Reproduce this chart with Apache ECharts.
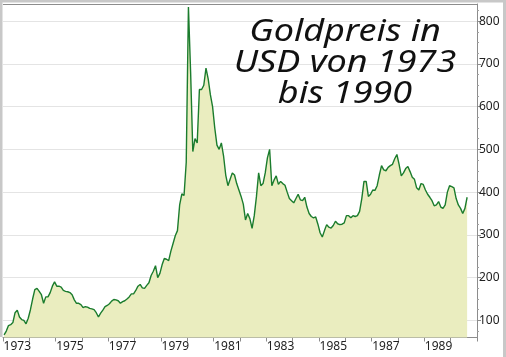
<!DOCTYPE html>
<html>
<head>
<meta charset="utf-8">
<script src="https://cdn.jsdelivr.net/npm/echarts@6/dist/echarts.min.js"></script>
<style>
html,body{margin:0;padding:0;background:#fff;}
#chart{width:506px;height:357px;}
</style>
</head>
<body>
<div id="chart"></div>
<script>
// Axis years (categories are monthly, Jan 1973 .. Dec 1990)
const years = [1973,1974,1975,1976,1977,1978,1979,1980,1981,1982,1983,1984,1985,1986,1987,1988,1989,1990];
const months = ['01','02','03','04','05','06','07','08','09','10','11','12'];
const yTickValues = [100,200,300,400,500,600,700,800];
const yMinorValues = [75,125,150,175,225,250,275,325,350,375,425,450,475,525,550,575,625,650,675,725,750,775,825];

// Gold price, USD per ounce, monthly
const g1973 = [66,75,88,90,95,118,124,108,102,100,92,105];
const g1974 = [125,150,172,175,168,160,140,155,155,165,180,190];
const g1975 = [180,180,178,170,168,167,165,160,148,140,140,137];
const g1976 = [130,132,131,128,127,125,118,108,117,124,132,135];
const g1977 = [139,145,149,148,146,140,144,146,150,155,162,162];
const g1978 = [170,180,184,176,175,182,188,205,215,228,200,210];
const g1979 = [230,245,243,240,262,280,298,310,370,396,392,470];
const g1980 = [833,680,495,525,515,640,640,650,690,665,628,600];
const g1981 = [550,510,500,515,485,440,415,430,445,440,420,405];
const g1982 = [390,372,335,350,338,315,345,390,445,415,420,445];
const g1983 = [480,500,415,428,438,418,425,420,416,400,385,380];
const g1984 = [375,385,395,382,380,388,365,350,343,340,342,325];
const g1985 = [305,295,310,324,318,316,322,332,326,324,325,328];
const g1986 = [345,345,340,345,343,345,355,385,425,425,390,395];
const g1987 = [405,404,415,440,462,452,450,458,462,465,478,488];
const g1988 = [465,438,445,455,460,448,435,430,410,405,420,418];
const g1989 = [405,395,388,380,368,370,378,365,362,370,400,415];
const g1990 = [413,410,385,370,362,350,362,388];

const goldPrices = [].concat(g1973,g1974,g1975,g1976,g1977,g1978,g1979,g1980,g1981,
  g1982,g1983,g1984,g1985,g1986,g1987,g1988,g1989,g1990);

const categories = [];
years.forEach(y => months.forEach(m => categories.push(y + '-' + m)));

const titleLines = ['Goldpreis in', 'USD von 1973', 'bis 1990'];

const chart = echarts.init(document.getElementById('chart'), null, {renderer:'canvas'});
const labelColor = '#222';
chart.setOption({
  animation: false,
  backgroundColor: '#fff',
  grid: {left: 3, right: 29, top: 4, bottom: 19.5},
  xAxis: {
    type: 'category',
    data: categories,
    boundaryGap: true,
    axisLine: {show: true, lineStyle: {color: '#8c8c8c', width: 1}},
    axisTick: {show: true, length: 4, lineStyle: {color: '#8c8c8c'},
      interval: function(i){ return i % 12 === 0; }},
    axisLabel: {
      interval: function(i){ return i % 24 === 6; },
      formatter: function(v){ return v.slice(0,4); },
      color: labelColor, fontFamily: 'Noto Sans', fontSize: 12, margin: 3
    },
    splitLine: {show: false}
  },
  yAxis: [{
    type: 'value',
    position: 'right',
    min: 60, max: 840,
    axisLine: {show: true, lineStyle: {color: '#8c8c8c', width: 1}},
    axisTick: {show: true, length: 4, lineStyle: {color: '#8c8c8c'}, customValues: yTickValues},
    axisLabel: {color: labelColor, fontFamily: 'Noto Sans', fontSize: 12, margin: 2, customValues: yTickValues},
    splitLine: {show: true, lineStyle: {color: '#e4e4e4', width: 1}}
  }, {
    type: 'value',
    position: 'right',
    min: 60, max: 840,
    axisLine: {show: false},
    axisTick: {show: true, length: 2, lineStyle: {color: '#a0a0a0'}, customValues: yMinorValues},
    axisLabel: {show: false},
    splitLine: {show: false}
  }],
  series: [{
    type: 'line',
    data: goldPrices,
    yAxisIndex: 0,
    symbol: 'none',
    smooth: false,
    lineStyle: {color: '#1b7c2d', width: 1.4},
    areaStyle: {color: '#eaedbf', opacity: 1, origin: 'start'},
    z: 3
  }],
  graphic: [
    {type: 'rect', shape: {x: 0, y: 0, width: 504, height: 2.5}, style: {fill: '#c8c8c8'}, z: 10},
    {type: 'rect', shape: {x: 503, y: 0, width: 3, height: 357}, style: {fill: '#c8c8c8'}, z: 10},
    {type: 'rect', shape: {x: 0, y: 0, width: 2.5, height: 337}, style: {fill: '#c8c8c8'}, z: 10},
    {type: 'line', shape: {x1: 3, y1: 4.5, x2: 477, y2: 4.5}, style: {stroke: '#8c8c8c', lineWidth: 1}, z: 10},
    {type: 'text', z: 20, x: 345, y: 17, scaleX: 1.2,
      style: {text: titleLines.join('\n'), align: 'center', verticalAlign: 'top',
        font: 'italic 400 30px "Noto Sans"', fill: '#111', lineHeight: 31}
    }
  ]
});
</script>
</body>
</html>
